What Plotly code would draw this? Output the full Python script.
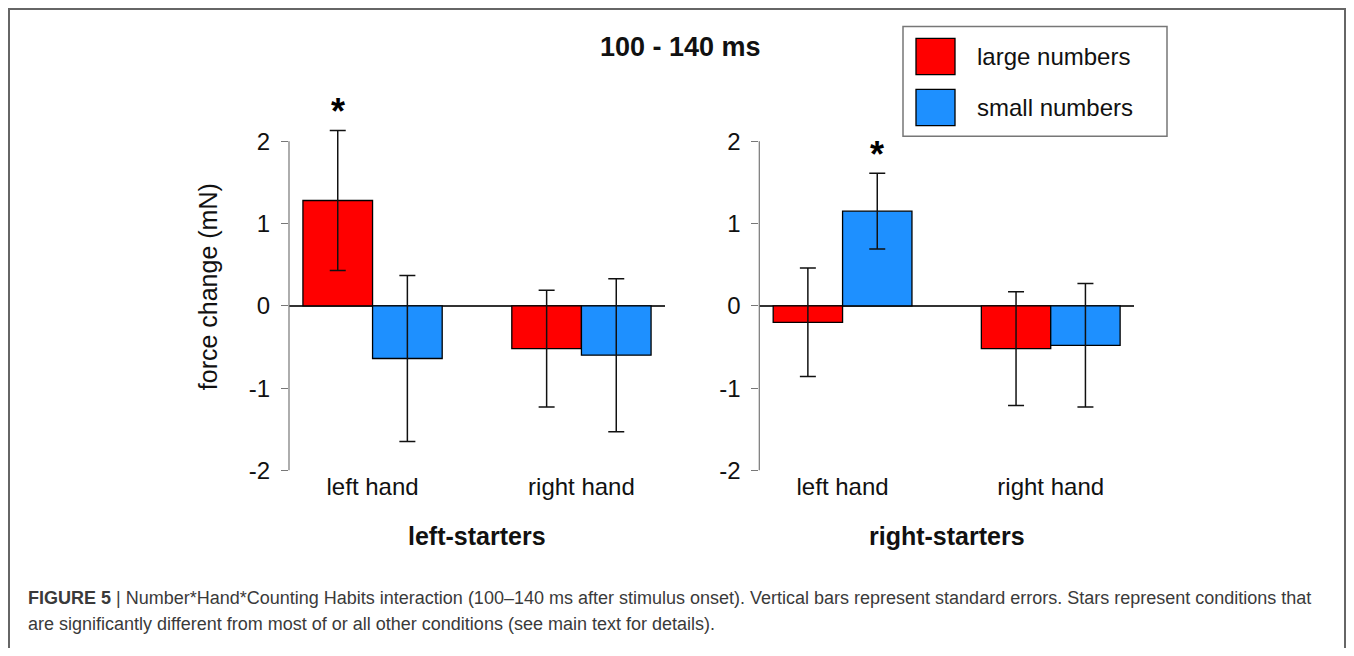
import plotly.graph_objects as go

# ---------------- data ----------------
hands = ["left hand", "right hand"]
groups = ["left-starters", "right-starters"]
series_names = ["large numbers", "small numbers"]
series_colors = ["#FF0000", "#1E90FF"]

# means (mN) per group: [left hand, right hand]
left_large = [1.28, -0.52]
left_small = [-0.64, -0.60]
right_large = [-0.20, -0.52]
right_small = [1.15, -0.48]
# standard errors
left_large_se = [0.85, 0.71]
left_small_se = [1.01, 0.93]
right_large_se = [0.66, 0.69]
right_small_se = [0.46, 0.75]
# significance stars: (group index, series index, hand index)
stars = [(0, 0, 0), (1, 1, 0)]

y_tickvals = [-2, -1, 0, 1, 2]
y_ticktext = ["-2", "-1", "0", "1", "2"]

# the page body has an 8px margin on every side; keep the page at 1354x656
OFF = 8
W, H = 1354 - 2 * OFF, 656 - 2 * OFF
def px(x):
    return (x - OFF) / W
def py(y):
    return (H - (y - OFF)) / H

panel_vals = [
    [(left_large, left_large_se), (left_small, left_small_se)],
    [(right_large, right_large_se), (right_small, right_small_se)],
]

fig = go.Figure()
for g, panel in enumerate(panel_vals):
    xa = "x" if g == 0 else "x2"
    ya = "y" if g == 0 else "y2"
    for s, (vals, ses) in enumerate(panel):
        fig.add_trace(go.Bar(
            x=hands, y=vals, name=series_names[s],
            marker=dict(color=series_colors[s], line=dict(color="#000000", width=1.3)),
            error_y=dict(type="data", array=ses, visible=True, color="#111111",
                         thickness=1.5, width=8),
            xaxis=xa, yaxis=ya, showlegend=False, offsetgroup=str(s),
        ))

y_range = [-2.0, 2.6]
y_dom = [py(480), py(93.6)]
x_range = [-0.4, 1.4]
axis_common = dict(
    range=y_range, domain=y_dom, tickvals=y_tickvals, ticktext=y_ticktext,
    ticks="outside", ticklen=7, tickcolor="#777777", tickwidth=1,
    showline=False, showgrid=False, zeroline=True, zerolinecolor="#333333",
    zerolinewidth=1.5, tickfont=dict(family="Liberation Sans, Arial", size=24, color="#111111"),
    ticklabelstandoff=6,
)
xaxis_common = dict(
    type="category", range=x_range, showgrid=False, showline=False, zeroline=False,
    ticks="", tickfont=dict(family="Liberation Sans, Arial", size=24, color="#111111"),
    ticklabelstandoff=0,
)
fig.update_layout(
    width=W, height=H, margin=dict(l=0, r=0, t=0, b=0),
    paper_bgcolor="white", plot_bgcolor="white",
    barmode="group", bargap=1/3, bargroupgap=0,
    xaxis=dict(domain=[px(289), px(665)], anchor="y", **xaxis_common),
    xaxis2=dict(domain=[px(759.3), px(1134)], anchor="y2", **xaxis_common),
    yaxis=dict(anchor="x", **axis_common),
    yaxis2=dict(anchor="x2", **axis_common),
)

shapes = []
annotations = []
# R-style axis lines spanning only the tick range
for xd, yd in [("x domain", "y"), ("x2 domain", "y2")]:
    shapes.append(dict(type="line", xref=xd, yref=yd, x0=0, x1=0,
                       y0=y_tickvals[0], y1=y_tickvals[-1],
                       line=dict(color="#777777", width=1.2)))

# stars
for g, s, h in stars:
    vals, ses = panel_vals[g][s]
    xoff = -1/6 if s == 0 else 1/6
    annotations.append(dict(
        x=h + xoff, y=vals[h] + ses[h] + 0.3, xref="x" if g == 0 else "x2",
        yref="y" if g == 0 else "y2", text="<b>*</b>", showarrow=False,
        font=dict(family="Liberation Sans, Arial", size=36, color="#000000"),
        yanchor="middle", yshift=-6,
    ))

# group labels
for g, name in enumerate(groups):
    annotations.append(dict(
        x=0.5, xref="x domain" if g == 0 else "x2 domain", y=py(547), yref="paper",
        text=f"<b>{name}</b>", showarrow=False, yanchor="middle",
        font=dict(family="Liberation Sans, Arial", size=25, color="#111111"),
    ))

# y-axis title
annotations.append(dict(
    x=px(208), y=py(293), xref="paper", yref="paper", text="force change (mN)",
    textangle=-90, showarrow=False, xanchor="center", yanchor="middle",
    font=dict(family="Liberation Sans, Arial", size=25, color="#111111"),
))

# title
annotations.append(dict(
    x=px(680.5), y=py(48), xref="paper", yref="paper", text="<b>100 - 140 ms</b>",
    showarrow=False, xanchor="center", yanchor="middle",
    font=dict(family="Liberation Sans, Arial", size=27, color="#111111"),
))

# manual legend
shapes.append(dict(type="rect", xref="paper", yref="paper",
                   x0=px(903), x1=px(1167), y0=py(139), y1=py(27),
                   line=dict(color="#777777", width=1.5), fillcolor="white"))
leg_rows = [(39, 76, 58), (91, 128, 109.5)]
for i, (t, b, c) in enumerate(leg_rows):
    shapes.append(dict(type="rect", xref="paper", yref="paper",
                       x0=px(916), x1=px(955), y0=py(b), y1=py(t),
                       line=dict(color="#000000", width=1.3), fillcolor=series_colors[i]))
    annotations.append(dict(
        x=px(975), y=py(c), xref="paper", yref="paper", text=series_names[i],
        showarrow=False, xanchor="left", yanchor="middle",
        font=dict(family="Liberation Sans, Arial", size=24, color="#111111"),
    ))

# outer frame
shapes.append(dict(type="rect", xref="paper", yref="paper",
                   x0=px(9), x1=px(1345), y0=-0.2, y1=py(9),
                   line=dict(color="#666666", width=2), fillcolor="rgba(0,0,0,0)"))

# caption
cap1 = ("<b>FIGURE 5</b> | Number*Hand*Counting Habits interaction (100–140 ms after stimulus onset). "
        "Vertical bars represent standard errors. Stars represent conditions that")
cap2 = "are significantly different from most of or all other conditions (see main text for details)."
for txt, yc in [(cap1, 610), (cap2, 637)]:
    annotations.append(dict(
        x=px(26), y=py(yc), xref="paper", yref="paper", text=txt, showarrow=False,
        xanchor="left", yanchor="middle",
        font=dict(family="Liberation Sans, Arial", size=18, color="#3a3a3a"),
    ))

fig.update_layout(shapes=shapes, annotations=annotations)
fig.write_html("out.html")
